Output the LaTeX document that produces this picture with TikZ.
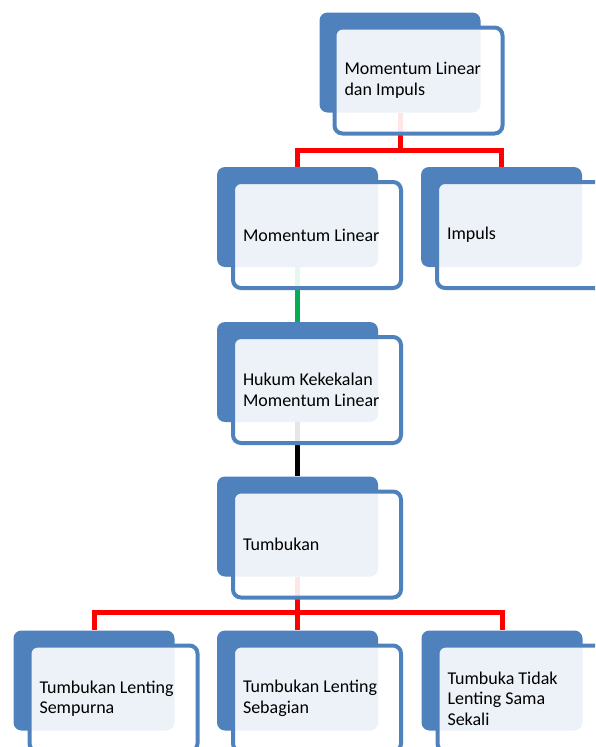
\documentclass[tikz,border=0pt]{standalone}
\usepackage{fontspec}
\setmainfont{Carlito}
\usetikzlibrary{calc}

\definecolor{boxblue}{HTML}{4F81BD}
\definecolor{linkgreen}{HTML}{00B050}

\tikzset{
  backbox/.style={fill=boxblue, rounded corners=8pt, inner sep=0pt,
    minimum width=161pt, minimum height=100pt},
  frontbox/.style={draw=boxblue, line width=4pt, fill=white, fill opacity=0.9,
    text opacity=1, rounded corners=8pt, inner xsep=10pt, inner ysep=0pt,
    text width=148pt, minimum height=106pt, align=flush left,
    font=\fontsize{18}{20.5}\selectfont},
  link/.style={line width=5pt}
}

\begin{document}
\begin{tikzpicture}[x=1pt, y=-1pt]
        % Page frame (reference is cut at the edges)
        \useasboundingbox (0,0) rectangle (595,747);
        \clip (0,0) rectangle (595,747);

        % Back (solid blue) boxes
        \node[backbox] (topback) at (400,62.5) {};
        \node[backbox] (momback) at (297.5,217) {};
        \node[backbox] (impback) at (501.5,217) {};
        \node[backbox] (hukback) at (297.5,372) {};
        \node[backbox] (tumback) at (297.5,526.5) {};
        \node[backbox] (sempback) at (94,680.5) {};
        \node[backbox] (sebback) at (297.5,680.5) {};
        \node[backbox] (tidback) at (502,680.5) {};

        % Fork points
        \coordinate (forktop) at (400,150);
        \coordinate (forkbot) at (297.5,612.5);

        % Connectors
        \draw[link, red] (topback.south) -- (forktop) -| (momback.north);
        \draw[link, red] (forktop) -| (impback.north);
        \draw[link, linkgreen] (momback.south) -- (hukback.north);
        \draw[link, black] (hukback.south) -- (tumback.north);
        \draw[link, red] (tumback.south) -- (forkbot) -| (sempback.north);
        \draw[link, red] (forkbot) -- (sebback.north);
        \draw[link, red] (forkbot) -| (tidback.north);

        % Front boxes with the texts
        \node[frontbox] (topfront) at ($(topback)+(18.5,18)$) {Momentum Linear\\dan Impuls};
        \node[frontbox] (momfront) at ($(momback)+(19.5,18)$) {Momentum Linear};
        \node[frontbox] (impfront) at ($(impback)+(19.5,18)$) {Impuls};
        \node[frontbox] (hukfront) at ($(hukback)+(19.5,18)$) {Hukum Kekekalan\\Momentum Linear};
        \node[frontbox] (tumfront) at ($(tumback)+(19.5,18)$) {Tumbukan};
        \node[frontbox] (sempfront) at ($(sempback)+(19.5,18)$) {Tumbukan Lenting\\Sempurna};
        \node[frontbox] (sebfront) at ($(sebback)+(19.5,18)$) {Tumbukan Lenting\\Sebagian};
        \node[frontbox] (tidfront) at ($(tidback)+(19.5,18)$) {Tumbuka Tidak\\Lenting Sama\\Sekali};
\end{tikzpicture}
\end{document}
